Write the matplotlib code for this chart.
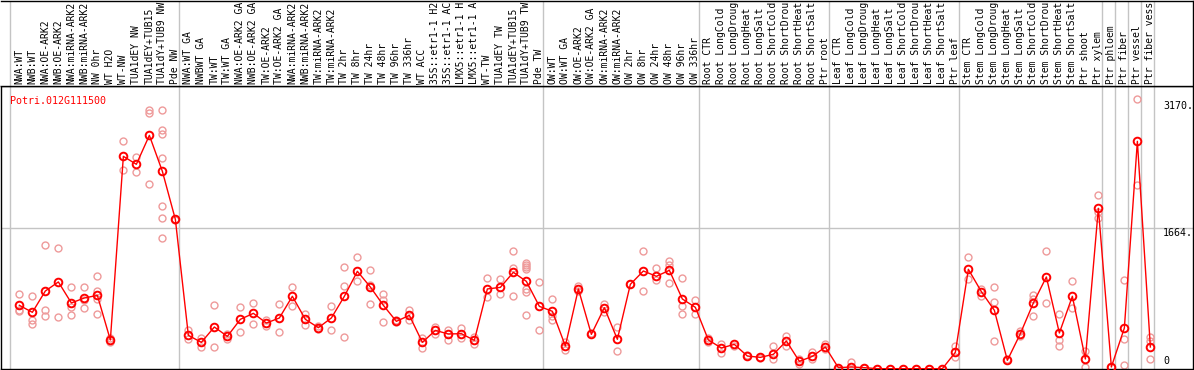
import matplotlib
matplotlib.use("Agg")
import matplotlib.pyplot as plt

gene = "Potri.012G111500"

samples = [
    "NWA:WT", "NWB:WT", "NWA:OE-ARK2", "NWB:OE-ARK2", "NWA:miRNA-ARK2", "NWB:miRNA-ARK2",
    "NW 0hr", "WT H2O", "WT-NW", "TUA1dEY NW", "TUA1dEY+TUB15", "TUA1dY+TUB9 NW", "Pde NW",
    "NWA:WT GA", "NWBWT GA", "TW:WT", "TW:WT GA", "NWA:OE-ARK2 GA", "NWB:OE-ARK2 GA",
    "TW:OE-ARK2", "TW:OE-ARK2 GA", "NWA:miRNA-ARK2", "NWB:miRNA-ARK2", "TW:miRNA-ARK2",
    "TW:miRNA-ARK2", "TW 2hr", "TW 8hr", "TW 24hr", "TW 48hr", "TW 96hr", "TW 336hr",
    "WT ACC", "35S::etr1-1 H2O", "35S::etr1-1 ACC", "LMX5::etr1-1 H2O", "LMX5::etr1-1 ACC",
    "WT-TW", "TUA1dEY TW", "TUA1dEY+TUB15", "TUA1dY+TUB9 TW", "Pde TW",
    "OW:WT", "OW:WT GA", "OW:OE-ARK2", "OW:OE-ARK2 GA", "OW:miRNA-ARK2", "OW:miRNA-ARK2",
    "OW 2hr", "OW 8hr", "OW 24hr", "OW 48hr", "OW 96hr", "OW 336hr",
    "Root CTR", "Root LongCold", "Root LongDrought", "Root LongHeat", "Root LongSalt",
    "Root ShortCold", "Root ShortDrought", "Root ShortHeat", "Root ShortSalt", "Ptr root",
    "Leaf CTR", "Leaf LongCold", "Leaf LongDrought", "Leaf LongHeat", "Leaf LongSalt",
    "Leaf ShortCold", "Leaf ShortDrought", "Leaf ShortHeat", "Leaf ShortSalt", "Ptr leaf",
    "Stem CTR", "Stem LongCold", "Stem LongDrought", "Stem LongHeat", "Stem LongSalt",
    "Stem ShortCold", "Stem ShortDrought", "Stem ShortHeat", "Stem ShortSalt", "Ptr shoot",
    "Ptr xylem", "Ptr phloem", "Ptr fiber", "Ptr vessel", "Ptr fiber vessel",
]

means = [
    751, 668, 921, 1028, 779, 838, 869, 340, 2517, 2423, 2766, 2340, 1770,
    395, 312, 494, 383, 585, 656, 541, 601, 858, 585, 486, 601, 858, 1154, 968,
    751, 561, 632, 312, 454, 411, 415, 336, 945, 964, 1142, 1035, 739,
    680, 269, 945, 407, 723, 348, 1000, 1158, 1095, 1166, 826, 727,
    340, 245, 288, 150, 134, 170, 328, 87, 146, 257,
    12, 20, 12, 0, 0, 0, 0, 0, 0, 194,
    1178, 913, 692, 99, 415, 779, 1087, 423, 858, 115, 1901,
    20, 482, 2695, 257,
]

reps = [
    [881, 700, 684], [858, 573, 526], [1466, 700, 620], [1427, 613], [964, 731, 632],
    [964, 810, 715], [1095, 921, 830, 644], [368, 320], [2695, 2351], [2510, 2328],
    [3071, 3031, 2193], [3063, 2826, 2778, 2494, 1925, 1786, 1545], [1778, 1759],
    [462, 352], [368, 257], [751, 257], [415, 356], [731, 431], [779, 526], [573, 510],
    [763, 431], [968, 739], [652, 518], [502, 474], [739, 454], [1201, 984, 375],
    [1320, 1035], [1166, 992, 763], [881, 810, 549], [573, 549], [700, 573], [368, 249],
    [494, 407], [462, 336], [486, 368], [375, 288], [1071, 850], [1063, 889],
    [1395, 1197, 858], [1253, 1229, 1205, 1182, 945, 905, 632], [1024, 454],
    [826, 620, 581], [316, 217], [984, 921], [423], [771, 668], [494, 206], [1000],
    [1395, 921], [1190, 1047], [1277, 1233, 1016], [1071, 739, 644], [818, 652],
    [368, 312], [296, 190], [265], [158], [126], [265, 119], [383, 265], [119, 59],
    [194, 119], [288, 237],
    [0], [75], [12], [0], [0], [0], [0], [0], [0], [273, 138],
    [1320, 1067], [948, 858], [964, 786, 328], [119], [447, 383], [869, 830, 620],
    [1395, 779], [652, 336, 265], [1039, 723], [209, 20], [2059, 1857, 1790],
    [20], [1047, 348, 47], [3200, 2174], [375, 328, 115],
]

group_edges = [0, 13, 41, 53, 63, 73, 84, 85, 86, 87, 88]
ytick_vals = [3170, 1664, 0]
ytick_txt = ["3170.", "1664.", "0"]
max_chars = 14  # the header box only shows this many characters

mono = "DejaVu Sans Mono"
grid_c = "#c4c4c4"

fig = plt.figure(figsize=(11.94, 3.70), dpi=100)
W, H = 1194.0, 370.0
ax = fig.add_axes([1 / W, 1 / H, 1192 / W, 283 / H])
axh = fig.add_axes([1 / W, 284 / H, 1192 / W, 85.5 / H])

xlim = ((1 - 10) / 13.0, (1193 - 10) / 13.0)
xs = [i + 0.72 for i in range(len(means))]

# main plot
ax.set_xlim(xlim)
ax.set_ylim((368.67 - 369) / 0.08435, (368.67 - 86) / 0.08435)
for e in group_edges:
    ax.axvline(e, color=grid_c, lw=1, zorder=1)
ax.axhline(1664, color=grid_c, lw=1, zorder=1)

for x, r in zip(xs, reps):
    ax.plot([x] * len(r), r, "o", ms=5, mfc="none", mec="#ee9a9a", mew=1, zorder=2)
ax.plot(xs, means, "-", color="#ff0000", lw=1, zorder=3)
ax.plot(xs, means, "o", ms=5.5, mfc="none", mec="#ff0000", mew=1.4, zorder=4)

ax.text((10 - 1) / 1192, 0.965, gene, transform=ax.transAxes, color="#ff0000",
        family=mono, fontsize=7.2, va="top", ha="left")

tx = (1163 - 10) / 13.0
for v, t in zip(ytick_vals, ytick_txt):
    if v == 0:
        ax.annotate(t, xy=(tx, v), xytext=(0, 3), textcoords="offset pixels",
                    family=mono, fontsize=7.2, va="bottom", ha="left")
    else:
        ax.text(tx, v, t, family=mono, fontsize=7.2, va="top", ha="left")

ax.set_xticks([])
ax.set_yticks([])
for s in ax.spines.values():
    s.set_color("black")
    s.set_linewidth(1)

# header with sample names
axh.set_xlim(xlim)
axh.set_ylim(0, 85.5)
for e in group_edges:
    axh.axvline(e, color=grid_c, lw=1)
for x, name in zip(xs, samples):
    axh.text(x, 1.5, name[:max_chars], rotation=90, ha="center", va="bottom",
             family=mono, fontsize=7.0)
axh.set_xticks([])
axh.set_yticks([])
axh.spines["left"].set_visible(False)
for k in ["top", "right", "bottom"]:
    axh.spines[k].set_color("black")
    axh.spines[k].set_linewidth(1)

fig.savefig("out.png", dpi=100)
